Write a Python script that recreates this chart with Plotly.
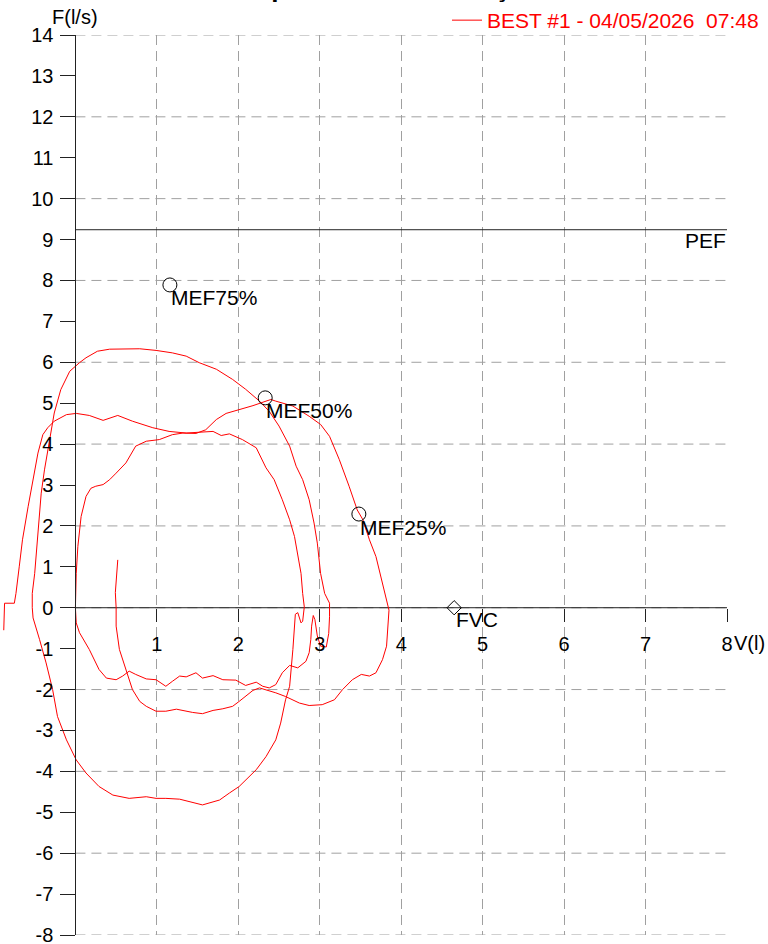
import plotly.graph_objects as go

# ---- data (V in litres, F in l/s) ----
vol = [
    -0.88, -0.87, -0.75, -0.73, -0.69, -0.65, -0.58, -0.52, -0.46, -0.40, -0.34, -0.26, -0.11, 0.01, 0.17, 0.34,
    0.52, 0.70, 0.95, 1.15, 1.36, 1.52, 1.69, 1.79, 1.89, 2.05, 2.22, 2.34, 2.44, 2.54, 2.63, 2.69, 2.73, 2.77,
    2.79, 2.81,
    2.79, 2.77, 2.73, 2.70, 2.67, 2.63, 2.58, 2.52, 2.46, 2.34, 2.22, 2.09, 2.01, 1.89, 1.77, 1.56, 1.40, 1.28,
    1.11, 0.99, 0.87, 0.66, 0.46, 0.29, 0.13, 0.01, -0.11, -0.22, -0.28, -0.36, -0.44, -0.52, -0.53, -0.53,
    -0.50, -0.46, -0.42, -0.38, -0.32, -0.26, -0.18, -0.07, 0.05, 0.13, 0.27, 0.42, 0.79, 0.99, 1.19, 1.36,
    1.52, 1.73, 1.93, 2.09, 2.26, 2.38, 2.50, 2.63, 2.71, 2.79, 2.87, 2.93, 2.97, 3.01, 3.06, 3.12, 3.12, 3.11,
    3.08, 3.01, 2.97, 2.94, 2.92, 2.90, 2.89, 2.87, 2.83, 2.73, 2.63, 2.54, 2.46, 2.38, 2.30, 2.22, 2.09, 1.97,
    1.81, 1.69, 1.56, 1.48, 1.36, 1.28, 1.19, 1.11, 0.99, 0.87, 0.74, 0.66, 0.58, 0.50, 0.38, 0.29, 0.17, 0.05,
    0.01, 0.00,
    0.01, 0.03, 0.07, 0.13, 0.19, 0.25, 0.34, 0.42, 0.50, 0.62, 0.74, 0.87, 1.03, 1.19, 1.32, 1.48, 1.60, 1.73,
    1.85, 2.01, 2.18, 2.34, 2.40, 2.46, 2.67, 2.87, 3.01, 3.12, 3.24, 3.36, 3.46, 3.53, 3.61, 3.69, 3.77, 3.83,
    3.85,
    3.82, 3.77, 3.69, 3.61, 3.51, 3.40, 3.28, 3.18, 3.03, 2.87, 2.75, 2.58, 2.46, 2.34, 2.26, 2.18, 2.09, 2.01,
    1.93, 1.81, 1.69, 1.56, 1.44, 1.24, 1.11, 0.99, 0.87, 0.79, 0.70, 0.62, 0.54, 0.50, 0.50, 0.49, 0.52,
]
flow = [
    -0.55, 0.11, 0.11, 0.35, 1.00, 1.66, 2.48, 3.13, 3.78, 4.23, 4.40, 4.56, 4.72, 4.75, 4.70, 4.58,
    4.70, 4.56, 4.40, 4.31, 4.27, 4.29, 4.31, 4.21, 4.25, 4.11, 3.91, 3.42, 3.13, 2.64, 2.15, 1.74, 1.33, 0.84,
    0.35, 0.02,
    -0.33, -0.37, -0.12, -0.16, -1.02, -1.92, -2.25, -2.82, -3.23, -3.64, -3.96, -4.21, -4.37, -4.53, -4.70, -4.82, -4.74, -4.68,
    -4.66, -4.66, -4.62, -4.66, -4.58, -4.37, -4.04, -3.72, -3.23, -2.66, -2.00, -1.35, -0.78, -0.25, 0.00, 0.35,
    0.84, 1.82, 2.80, 3.37, 4.11, 4.76, 5.33, 5.78, 5.99, 6.11, 6.27, 6.32, 6.33, 6.29, 6.23, 6.15,
    5.99, 5.83, 5.58, 5.34, 5.05, 4.80, 4.44, 3.95, 3.46, 3.13, 2.64, 2.07, 1.58, 0.84, 0.35, 0.11, -0.22, -0.63,
    -0.96, -0.94, -0.69, -0.29, -0.19, -0.45, -0.78, -1.10, -1.31, -1.47, -1.41, -1.59, -1.88, -1.96, -1.92, -1.82, -1.90, -1.77,
    -1.76, -1.66, -1.72, -1.59, -1.69, -1.67, -1.80, -1.92, -1.76, -1.74, -1.63, -1.55, -1.67, -1.76, -1.72, -1.51, -1.02, -0.61,
    -0.37, 0.00,
    0.84, 1.50, 2.23, 2.72, 2.92, 2.97, 3.01, 3.13, 3.29, 3.54, 3.95, 4.07, 4.11, 4.23, 4.27, 4.26, 4.35, 4.60,
    4.75, 4.84, 4.94, 5.05, 5.09, 5.05, 4.93, 4.68, 4.48, 4.19, 3.62, 2.97, 2.39, 2.15, 1.66, 1.25, 0.60, 0.11,
    -0.06,
    -0.94, -1.27, -1.59, -1.67, -1.63, -1.76, -2.00, -2.25, -2.37, -2.39, -2.33, -2.17, -2.08, -2.00, -1.96, -2.02, -2.17, -2.29,
    -2.41, -2.47, -2.51, -2.59, -2.56, -2.48, -2.53, -2.53, -2.41, -2.29, -2.00, -1.51, -1.02, -0.45, 0.00, 0.37, 1.17,
]

mef_names = ["MEF75%", "MEF50%", "MEF25%"]
mef_vol = [1.16, 2.33, 3.48]
mef_flow = [7.89, 5.13, 2.29]
fvc_name = "FVC"
fvc_vol = 4.65
pef_name = "PEF"
pef_flow = 9.24

series_name = "BEST #1 - 04/05/2026 \u00a007:48"
title_text = "<b>Capacidade Vital Forçada</b>"

x_ticks = [1, 2, 3, 4, 5, 6, 7, 8]
x_labels = [str(v) for v in x_ticks]
y_ticks = list(range(-8, 15))
y_labels = [str(v) for v in y_ticks]
y_grid = list(range(-8, 15, 2))
x_min, x_max = -0.926, 8.0
y_min, y_max = -8.0, 14.0

FONT = "Liberation Sans, Arial, Helvetica, sans-serif"
GRID = "#a0a0a0"
AX = "#222222"

fig = go.Figure()
fig.add_trace(go.Scatter(
    x=vol, y=flow, mode="lines", name=series_name,
    line=dict(color="#ff0000", width=1), showlegend=True,
))
fig.add_trace(go.Scatter(
    x=mef_vol, y=mef_flow, mode="markers", showlegend=False,
    marker=dict(symbol="circle-open", size=14, color="black", line=dict(width=1)),
))
fig.add_trace(go.Scatter(
    x=[fvc_vol], y=[0], mode="markers", showlegend=False,
    marker=dict(symbol="diamond-open", size=11, color="black", line=dict(width=1)),
))

shapes = []
for g in y_grid:
    shapes.append(dict(type="line", xref="x", yref="y", x0=0, x1=x_max, y0=g, y1=g,
                       line=dict(color=GRID, width=1, dash="10px,6px"), layer="below"))
shapes.append(dict(type="line", xref="x", yref="y", x0=0, x1=x_max, y0=0, y1=0,
                   line=dict(color=AX, width=1), layer="below"))
shapes.append(dict(type="line", xref="x", yref="y", x0=0, x1=x_max, y0=pef_flow, y1=pef_flow,
                   line=dict(color=AX, width=1)))

ann = []
for n, xv, yv in zip(mef_names, mef_vol, mef_flow):
    ann.append(dict(x=xv, y=yv, xref="x", yref="y", text=n, showarrow=False,
                    xanchor="left", yanchor="middle", xshift=-1, yshift=-13,
                    font=dict(size=21, color="black")))
ann.append(dict(x=fvc_vol, y=0, xref="x", yref="y", text=fvc_name, showarrow=False,
                xanchor="left", yanchor="middle", xshift=0, yshift=-12,
                font=dict(size=21, color="black")))
ann.append(dict(x=x_max, y=pef_flow, xref="x", yref="y", text=pef_name, showarrow=False,
                xanchor="right", yanchor="middle", xshift=1, yshift=-11,
                font=dict(size=21, color="black")))
ann.append(dict(x=0, y=y_max, xref="x", yref="y", text="F(l/s)", showarrow=False,
                xanchor="center", yanchor="middle", yshift=18,
                font=dict(size=20, color="black")))
ann.append(dict(x=x_max, y=0, xref="x", yref="y", text="V(l)", showarrow=False,
                xanchor="left", yanchor="middle", xshift=5, yshift=-35,
                font=dict(size=20, color="black")))
ann.append(dict(x=236 / 727, y=1.033, xref="paper", yref="paper", text=title_text, showarrow=False,
                xanchor="left", yanchor="bottom", font=dict(size=26, color="black")))

x0_frac = (0 - x_min) / (x_max - x_min)
y0_frac = (0 - y_min) / (y_max - y_min)

fig.update_layout(
    width=768, height=944,
    margin=dict(l=0, r=41, t=35, b=9, pad=0, autoexpand=False),
    plot_bgcolor="white", paper_bgcolor="white",
    font=dict(family=FONT, size=20, color="black"),
    shapes=shapes, annotations=ann,
    legend=dict(xref="paper", yref="container", x=447 / 727, y=1.0083, xanchor="left", yanchor="top",
                font=dict(size=21, color="#ff0000"), bgcolor="rgba(0,0,0,0)", borderwidth=0),
    xaxis=dict(range=[x_min, x_max], tickvals=x_ticks, ticktext=x_labels, ticks="outside", ticklen=13,
               tickcolor=AX, showgrid=True, gridcolor=GRID, griddash="10px,6px", gridwidth=1,
               zeroline=False, showline=False, anchor="free", position=y0_frac,
               tickfont=dict(size=20), ticklabelstandoff=5, automargin=False, fixedrange=True,
               ticklabeloverflow="allow"),
    yaxis=dict(range=[y_min, y_max], tickvals=y_ticks, ticktext=y_labels, ticks="outside", ticklen=15,
               tickcolor=AX, showgrid=False, zeroline=False, showline=True, linecolor=AX, linewidth=1,
               anchor="free", position=x0_frac, tickfont=dict(size=20), ticklabelstandoff=3,
               automargin=False, fixedrange=True, ticklabeloverflow="allow"),
)

fig.write_html(
    "out.html",
    config={"displayModeBar": False, "staticPlot": False},
    post_script="document.body.style.margin='0';document.body.style.padding='0';",
)
